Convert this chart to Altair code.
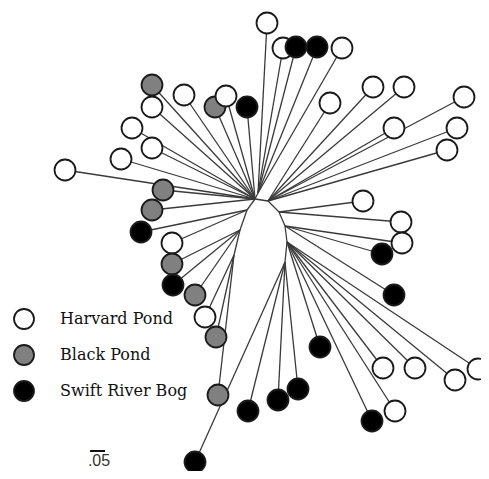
import altair as alt
import pandas as pd

# Internal (hub) nodes of the unrooted tree, in picture units
hub_x = [255, 258, 268, 279, 285, 287, 285, 247, 240, 234]
hub_y = [199, 193, 201, 212, 226, 242, 262, 210, 230, 255]

# Backbone edges between hubs
back_from = [1, 0, 2, 3, 4, 5, 0, 7, 8]
back_to   = [0, 2, 3, 4, 5, 6, 7, 8, 9]

# Leaves (tips) with collection site and parent hub
leaf_x = [267, 283, 296, 317, 342,
          330, 373, 404, 394, 464, 457, 447,
          363, 401, 402, 382, 394,
          320, 383, 415, 455, 478, 395, 372,
          298, 278, 248, 195, 218,
          141, 172, 172, 173, 195, 205, 216,
          163, 152, 65, 121, 152, 132, 152, 152, 184, 215, 226, 247]
leaf_y = [23, 48, 47, 47, 48,
          103, 87, 87, 128, 97, 128, 150,
          201, 222, 243, 254, 295,
          347, 368, 368, 380, 369, 411, 421,
          389, 400, 411, 462, 395,
          232, 243, 264, 285, 295, 317, 337,
          190, 210, 170, 159, 148, 128, 85, 107, 95, 107, 96, 107]
leaf_site = ["Harvard Pond", "Harvard Pond", "Swift River Bog", "Swift River Bog", "Harvard Pond",
             "Harvard Pond", "Harvard Pond", "Harvard Pond", "Harvard Pond", "Harvard Pond", "Harvard Pond", "Harvard Pond",
             "Harvard Pond", "Harvard Pond", "Harvard Pond", "Swift River Bog", "Swift River Bog",
             "Swift River Bog", "Harvard Pond", "Harvard Pond", "Harvard Pond", "Harvard Pond", "Harvard Pond", "Swift River Bog",
             "Swift River Bog", "Swift River Bog", "Swift River Bog", "Swift River Bog", "Black Pond",
             "Swift River Bog", "Harvard Pond", "Black Pond", "Swift River Bog", "Black Pond", "Harvard Pond", "Black Pond",
             "Black Pond", "Black Pond", "Harvard Pond", "Harvard Pond", "Harvard Pond", "Harvard Pond", "Black Pond", "Harvard Pond", "Harvard Pond", "Black Pond", "Harvard Pond", "Swift River Bog"]
leaf_parent = [1, 1, 1, 1, 1,
               2, 2, 2, 2, 2, 2, 2,
               3, 3, 4, 4, 4,
               5, 5, 5, 5, 5, 5, 5,
               6, 6, 6, 6, 9,
               7, 7, 8, 8, 8, 9, 9,
               0, 0, 0, 0, 0, 0, 0, 0, 0, 0, 0, 0]

sites = ["Harvard Pond", "Black Pond", "Swift River Bog"]
site_colors = ["#ffffff", "#808080", "#000000"]

# scale bar (length 0.05)
bar_x = [90, 105]
bar_y = [451]
bar_label = ".05"
bar_label_xy = [99, 461]

W, H = 473, 463
xs = alt.Scale(domain=[8, 8 + W], nice=False, zero=False)
ys = alt.Scale(domain=[8, 8 + H], nice=False, zero=False, reverse=True)

edges = []
for a, b in zip(back_from, back_to):
    edges.append({"x": hub_x[a], "y": hub_y[a], "x2": hub_x[b], "y2": hub_y[b]})
for lx, ly, p in zip(leaf_x, leaf_y, leaf_parent):
    edges.append({"x": hub_x[p], "y": hub_y[p], "x2": lx, "y2": ly})
edges = pd.DataFrame(edges)

leaves = pd.DataFrame({"x": leaf_x, "y": leaf_y, "site": leaf_site,
                       "order": list(range(len(leaf_x)))})

branch = alt.Chart(edges).mark_rule(color="#3a3a3a", strokeWidth=1.3).encode(
    x=alt.X("x:Q", scale=xs, axis=None),
    y=alt.Y("y:Q", scale=ys, axis=None),
    x2="x2:Q", y2="y2:Q",
)

tips = alt.Chart(leaves).mark_point(
    filled=True, shape="circle", size=440, stroke="#1a1a1a", strokeWidth=1.8, opacity=1
).encode(
    x=alt.X("x:Q", scale=xs, axis=None),
    y=alt.Y("y:Q", scale=ys, axis=None),
    fill=alt.Fill("site:N", scale=alt.Scale(domain=sites, range=site_colors),
                  legend=alt.Legend(title=None, orient="none", legendX=5, legendY=300,
                                    symbolSize=400, symbolStrokeColor="#1a1a1a",
                                    symbolStrokeWidth=1.8, symbolType="circle",
                                    labelFont="DejaVu Serif", labelFontSize=16,
                                    labelColor="#111", labelOffset=25, rowPadding=8,
                                    padding=0)),
    order=alt.Order("order:Q"),
)

bar = alt.Chart(pd.DataFrame({"x": [bar_x[0]], "x2": [bar_x[1]], "y": bar_y})).mark_rule(
    color="#111", strokeWidth=2
).encode(
    x=alt.X("x:Q", scale=xs, axis=None), x2="x2:Q",
    y=alt.Y("y:Q", scale=ys, axis=None),
)

bar_text = alt.Chart(pd.DataFrame({"x": [bar_label_xy[0]], "y": [bar_label_xy[1]],
                                   "t": [bar_label]})).mark_text(
    font="Liberation Sans", fontSize=16, color="#333"
).encode(
    x=alt.X("x:Q", scale=xs, axis=None),
    y=alt.Y("y:Q", scale=ys, axis=None),
    text="t:N",
)

chart = alt.layer(branch, tips, bar, bar_text).properties(
    width=W, height=H, padding=0,
    autosize=alt.AutoSizeParams(type="none"),
).configure_view(strokeWidth=0)

chart.save("out.html", embed_options={"renderer": "svg", "actions": False})
